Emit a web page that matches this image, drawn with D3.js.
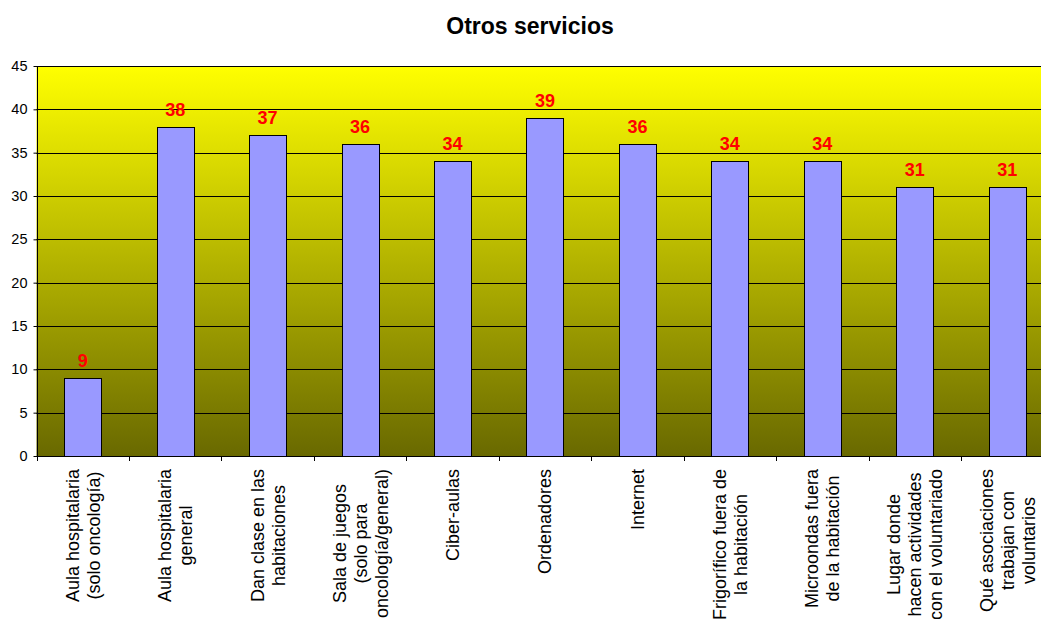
<!DOCTYPE html>
<html><head><meta charset="utf-8">
<script src="https://cdn.jsdelivr.net/npm/d3@7"></script>
<style>body{margin:0;background:#fff;overflow:hidden}svg{display:block;font-family:"Liberation Sans",Arial,sans-serif}</style>
</head><body><svg id="c" width="1041" height="619"></svg>
<script>
const categories = [
  ["Aula hospitalaria","(solo oncología)"],
  ["Aula hospitalaria","general"],
  ["Dan clase en las","habitaciones"],
  ["Sala de juegos","(solo para","oncología/general)"],
  ["Ciber-aulas"],
  ["Ordenadores"],
  ["Internet"],
  ["Frigorífico fuera de","la habitación"],
  ["Microondas fuera","de la habitación"],
  ["Lugar donde","hacen actividades","con el voluntariado"],
  ["Qué asociaciones","trabajan con","voluntarios"]
];
const values = [9,38,37,36,34,39,36,34,34,31,31];
const yTicks = [0,5,10,15,20,25,30,35,40,45];
const title = "Otros servicios";

const svg = d3.select("#c");
const L=36.5, T=66, B=456;
const R = L + 11*92.45;
const x = d3.scaleBand().domain(d3.range(values.length)).range([L,R]).paddingInner(0.6).paddingOuter(0.3);
const y = d3.scaleLinear().domain([0,45]).range([B,T]);

const defs = svg.append("defs");
const g = defs.append("linearGradient").attr("id","bg").attr("x1",0).attr("y1",0).attr("x2",0).attr("y2",1);
g.append("stop").attr("offset","0%").attr("stop-color","#FFFF00");
g.append("stop").attr("offset","100%").attr("stop-color","#696900");
svg.append("rect").attr("x",L).attr("y",T).attr("width",R-L).attr("height",B-T).attr("fill","url(#bg)");

svg.append("g").selectAll("line").data(yTicks.filter(d=>d>0)).join("line")
  .attr("x1",L).attr("x2",R).attr("y1",d=>Math.round(y(d))+0.5).attr("y2",d=>Math.round(y(d))+0.5)
  .attr("stroke","#000").attr("stroke-width",1);

const ya = svg.append("g").attr("transform",`translate(${Math.round(L)+0.5},0)`)
  .call(d3.axisLeft(y).tickValues(yTicks).tickSize(4).tickPadding(6).tickFormat(d3.format("d")));
ya.select(".domain").attr("d",`M0,${T}V${B}`).attr("stroke","#000");
ya.selectAll(".tick line").attr("stroke","#000");
ya.selectAll("text").attr("font-size",14.5).attr("fill","#000").attr("font-family","Liberation Sans, Arial, sans-serif");

svg.append("g").selectAll("rect").data(values).join("rect")
  .attr("x",(d,i)=>Math.round(x(i))+0.5).attr("width",Math.round(x.bandwidth()))
  .attr("y",d=>Math.round(y(d))+0.5).attr("height",d=>B-Math.round(y(d)))
  .attr("fill","#9999FF").attr("stroke","#000").attr("stroke-width",1);

svg.append("line").attr("x1",L).attr("x2",R).attr("y1",B+0.5).attr("y2",B+0.5).attr("stroke","#000");
svg.append("g").selectAll("line").data(d3.range(values.length+1)).join("line")
  .attr("x1",i=>Math.round(L+i*x.step())+0.5).attr("x2",i=>Math.round(L+i*x.step())+0.5)
  .attr("y1",B).attr("y2",B+5).attr("stroke","#000");

svg.append("g").selectAll("text").data(values).join("text")
  .attr("x",(d,i)=>x(i)+x.bandwidth()/2).attr("y",d=>y(d)-11)
  .attr("text-anchor","middle").attr("font-size",18).attr("font-weight","bold").attr("fill","#FF0000")
  .text(d=>d);

const lab = svg.append("g").selectAll("g").data(categories).join("g")
  .attr("transform",(d,i)=>`translate(${x(i)+x.bandwidth()/2},469) rotate(-90)`);
lab.each(function(lines){
  const t = d3.select(this).append("text").attr("text-anchor","middle").attr("font-size",18).attr("fill","#000");
  const n = lines.length;
  lines.forEach((s,k)=>{
    t.append("tspan").attr("x",0).attr("y",(k-(n-1)/2)*21+6.5).text(s);
  });
  const w = d3.max(t.selectAll("tspan").nodes(), n=>n.getComputedTextLength());
  t.selectAll("tspan").attr("x",-w/2);
});

svg.append("text").attr("x",530).attr("y",34).attr("text-anchor","middle")
  .attr("font-size",23).attr("font-weight","bold").text(title);
</script></body></html>
